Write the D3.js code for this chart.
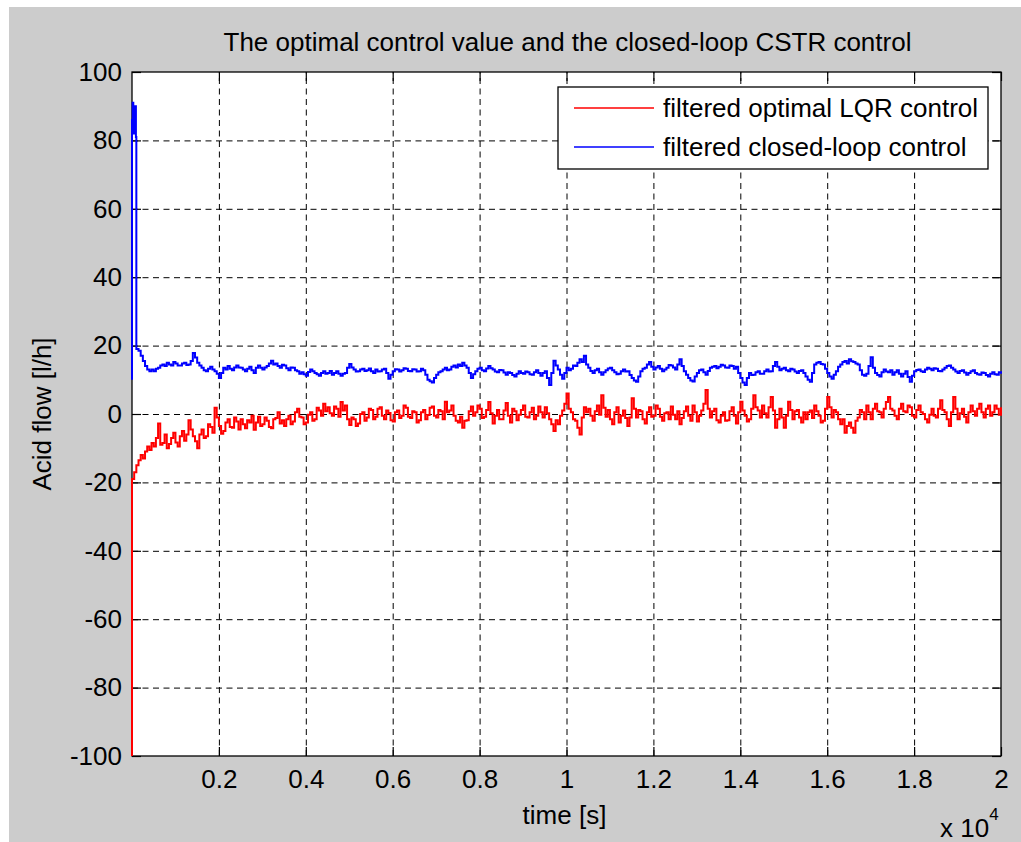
<!DOCTYPE html>
<html>
<head>
<meta charset="utf-8">
<script src="https://cdn.jsdelivr.net/npm/d3@7"></script>
<style>
  html, body { margin: 0; padding: 0; background: #ffffff; }
  svg { display: block; }
  text { font-family: "Liberation Sans", Arial, sans-serif; fill: #000; }
</style>
</head>
<body>
<svg id="chart" width="1021" height="842"></svg>
<script>
// ---------------- data ----------------
const titleText = "The optimal control value and the closed-loop CSTR control";
const xLabelText = "time [s]";
const yLabelText = "Acid flow [l/h]";
const seriesNames = ["filtered optimal LQR control", "filtered closed-loop control"];
const seriesColors = ["#ff0000", "#0000ff"];

const xTicks = [2000, 4000, 6000, 8000, 10000, 12000, 14000, 16000, 18000, 20000];
const yTicks = [-100, -80, -60, -40, -20, 0, 20, 40, 60, 80, 100];
const xDomain = [0, 20000];
const yDomain = [-100, 100];

// sampling grid for the main part of the records (s)
const mainStart = 500, mainStep = 50, mainEnd = 20000;

// start-up transient (explicit times)
const redEarlyT  = [0, 0, 50, 100, 150, 200, 250, 300, 350, 400, 450];
const redEarly   = [-100, -19, -17, -15, -13.5, -12, -13, -11, -9.5, -10.5, -8.5];
const blueEarlyT = [0, 0, 15, 30, 45, 60, 75, 90, 100, 150, 200, 250, 300, 350, 400, 450];
const blueEarly  = [10, 86, 91, 82, 89, 84, 90, 81, 19, 18.5, 17, 15.5, 14, 13, 12.5, 13];

// filtered optimal LQR control, t = 500 ... 20000 every 50 s (one row = 1000 s)
const redMain = [
  -9.5, -7, -2.8, -9, -8.5, -6, -10, -8.8, -7, -5.5, -8.3, -9.5, -6.5, -5, -7.8, -6, -1.8, -4.5, -6.5, -8,
  -10, -6, -4.5, -7, -6.5, -3, -3.8, -5.5, 1.8, -1, -3.5, -5.8, -5, -2.5, -1.5, -3.8, -4, -1, -2.2, -4.5,
  -1.5, -3, -4.2, -1.8, -2.5, -0.5, -4.6, -2.5, -0.8, -3.5, -3, -1, -2, -3.8, -4.2, -1.5, -1.2, 0.5, -2.8, -1.8,
  -3.5, -1.5, -0.5, -3, -2.2, 0.5, 1.5, -0.8, -1, -3, -2.5, -0.2, 0.5, -2, -1.5, 1.8, 1, -0.5, 3, 0.8,
  2, 0.2, -0.5, 2.2, 1.5, -0.8, 3.5, 1, 2.5, -1.5, -3.2, -1, -1.5, -3.5, -2.8, 0, 0.5, -2, -1, 1.5,
  1.2, -1.5, -0.8, 1.5, 2, -0.5, -1.5, 1, 0.3, -1.8, -2.2, 0.5, 1, -1.2, -0.5, 2.5, 1.8, -0.8, -1.2, 0.8,
  0.5, -2.5, -1.8, 0.5, 1.2, -1.5, -0.3, 1.8, 2.2, -0.5, -1, 1.2, 0.8, -1.5, 3.6, 0.5, 1, 2.5, -0.5, -2,
  -2.5, -0.8, -4, -2, -1.8, 0.8, 2.2, -0.5, 0.5, 2.5, 1.5, -1.2, -0.8, 1.2, 3.5, 0.2, -2.8, -0.5, 1.2, -1.5,
  -1.5, 1, 3.2, -0.5, -2.5, 1.5, 0.8, -1.8, -0.2, 1.2, 2.5, -0.8, -1, 0.5, 1.8, -1.5, -0.5, 2.2, 0.5, -1,
  2, 0.2, -1.5, -3, -5, -1.8, -3, -0.5, 1, 3, 6, 1.5, 0.5, -1.5, -2, -4, -6, -1, 2, 0.5,
  1.5, -0.5, -2, 0.8, 2.5, -0.2, 5.5, 1.8, -0.8, 1.2, -1.5, -3, 0.5, 2, -2.5, -0.5, 1, -1.2, -3.5, -1,
  4.6, 1.5, -1, 1.2, 0.8, -1.5, -2.8, 0.5, 2, -0.8, -0.5, 2.5, 1.5, -0.8, -2, 0.2, 0.5, -1.5, 2.2, -0.2,
  -1.5, 0.8, -3, -1.2, 0.8, 2.2, -0.5, -2, 2.5, 0.5, -2.2, -0.5, 1, 3, 7, 1.5, -1, 0.8, 1.5, -1.8,
  -2.5, -0.5, 0.5, -2, -1.8, 0.8, 2, -0.5, -2.8, 0.5, 3.6, 1, -0.5, -2.2, -1.5, 1.5, 5.5, 2, 1, -1,
  2.5, 0.2, -1, 2, 5, 1, -4, -1.5, 1.5, -1, -4, -0.5, 3.6, 1.2, -1.5, 0.8, 1.2, -1, -2.5, 0.5,
  -1.5, 0.5, 1, -1.2, 2.5, 0.8, -0.5, -2.5, -2, 1.5, 5, 2, -1, 1.2, 0.5, -1.5, -3, -1.5, -5.5, -3.5,
  -2.5, -4, -5.5, -2, -1, 1.2, 0.5, -1.5, 2.5, 0.5, -1.5, 1.5, 3, 0.8, 0.5, -1, 1.5, 3.5, 5, 1.5,
  1, -0.5, -1.5, 1.5, 3, 0.8, 0.5, 2.5, 2, -0.5, -1, 1.2, 2.5, 0.5, 0, -1.5, -2.5, -0.2, 1.5, -0.5,
  -1, 1.5, 4, 1.2, 0.5, -1.5, -3.5, 0.5, 5, 1.5, -1.5, 0.2, 1.5, -0.8, -2.5, 0.5, 2.5, 0.8, -0.5, 1.5,
  3, 0.5, -1, 1.5, 2.5, -0.5, 0.5, 2.5, 1.5, -0.2, 2
];

// filtered closed-loop control, t = 500 ... 20000 every 50 s (one row = 1000 s)
const blueMain = [
  12.5, 13.2, 13.5, 14.2, 14.5, 14, 15, 14.5, 14.2, 15.2, 14.8, 14.2, 14.2, 14.8, 15, 14.3, 14.5, 15.5, 17.8, 16.5,
  15, 14.2, 13.5, 12.8, 12.5, 13.2, 13.8, 13, 12.5, 11.8, 10.5, 12, 13.5, 13, 14, 13.2, 12.8, 13.6, 14.2, 13.6,
  13.5, 13, 12.5, 13.2, 13.8, 12.8, 12, 13.5, 14.2, 13.5, 13, 13.6, 14, 14.8, 15.6, 14.5, 14.8, 14, 13.5, 14.4,
  14.2, 13.4, 12.8, 13.6, 13.5, 12.8, 12.5, 11.8, 12.2, 11.6, 11.2, 12.3, 13, 12.5, 12, 11.6, 11.2, 12, 12.5, 11.8,
  12, 12.6, 11.5, 12, 12.5, 11.8, 11.2, 11.8, 12, 13.5, 14.6, 13.6, 13, 12.4, 12.5, 13, 13.2, 12.6, 12.8, 13.3,
  12.5, 12, 13, 12.4, 12.5, 13, 13.2, 12, 10.3, 11.5, 12.5, 13.1, 13, 12.4, 12.8, 13.4, 13.2, 12.6, 12.5, 13.1,
  13, 12.4, 12.5, 13.2, 12.8, 11.5, 10, 9.6, 9.2, 10.5, 11.5, 12.2, 12.5, 13, 13.5, 12.8, 13, 13.8, 14.2, 13.6,
  14.5, 14, 15, 14.2, 13.5, 12, 10.5, 11.6, 12.5, 13.2, 13.5, 12.8, 12.5, 13.3, 14, 13.4, 13, 12.4, 12.2, 12.9,
  12.8, 12.1, 11.5, 12.2, 12, 11.4, 11, 11.8, 12.5, 12, 11.8, 12.4, 12.2, 11.6, 11.5, 12.2, 12.8, 12, 11.2, 12,
  12.5, 10.5, 8.5, 12, 15.6, 14.2, 13, 11.5, 10.3, 12, 13.5, 12.8, 13.2, 14.2, 14, 15, 16, 15.2, 17, 14.5,
  13.5, 12.6, 12, 12.8, 13.2, 12.2, 11.5, 12.2, 12.8, 13.3, 13.5, 12.8, 12.2, 11.6, 11.8, 12.5, 13, 12.4, 12.5, 11.4,
  10.5, 9.8, 9.4, 11, 12.5, 13.2, 13.5, 14.5, 15.2, 13.8, 13, 13.6, 14, 13.2, 12.5, 13, 13.5, 14.3, 14.2, 13.6,
  13, 14.5, 16, 14, 12.5, 11.5, 10.5, 9.8, 9.5, 11, 12, 12.8, 13, 12.2, 11.5, 12.6, 13.5, 13.8, 14, 13.4,
  13.8, 14.4, 14.2, 13.6, 13.5, 14.2, 14, 13.2, 13.8, 12, 10.5, 9.2, 8.5, 10.5, 12, 11.4, 11.5, 12.2, 12.5, 11.8,
  11.8, 12.5, 13, 12.4, 12.5, 14, 15.2, 13.8, 12.8, 13.2, 13.5, 12.8, 12.5, 13.2, 13, 12.4, 12, 12.6, 12.8, 12,
  11, 10, 9.4, 12, 14.5, 15, 15.2, 14.6, 14.5, 13.2, 12, 11, 10.3, 11.5, 12.5, 13.8, 14.5, 15.2, 15.5, 14.8,
  16, 15.4, 15.2, 14.8, 14.5, 12.8, 11.5, 11.2, 11.8, 14, 16.6, 13.5, 12, 11.4, 11, 12.2, 13, 12.4, 12.2, 12.8,
  11.5, 12.2, 12.8, 11.8, 11, 11.8, 12.5, 10.8, 9.4, 11.2, 12.5, 12.9, 13, 12.5, 12.3, 13, 13.5, 13.2, 12.8, 13.4,
  13.2, 12.6, 12.5, 13, 13.5, 14, 14.2, 13.5, 13, 12.4, 12, 12.6, 12.8, 12.1, 11.5, 12, 12.5, 12.8, 12, 11.6,
  11.5, 12.1, 12, 11.4, 11, 11.8, 12.2, 11.6, 11.5, 12.2, 11.8
];

// ---------------- layout ----------------
const W = 1021, H = 842;
const plot = { left: 132, top: 72, right: 1001, bottom: 756 };
const fontSize = 26;

const svg = d3.select("#chart");
svg.append("rect").attr("x", 0).attr("y", 0).attr("width", W).attr("height", H).attr("fill", "#ffffff");
svg.append("rect").attr("x", 9).attr("y", 7).attr("width", W - 9).attr("height", H - 7).attr("fill", "#cccccc");

const x = d3.scaleLinear().domain(xDomain).range([plot.left, plot.right]);
const y = d3.scaleLinear().domain(yDomain).range([plot.bottom, plot.top]);
const pw = plot.right - plot.left, ph = plot.bottom - plot.top;

svg.append("rect")
  .attr("x", plot.left).attr("y", plot.top).attr("width", pw).attr("height", ph)
  .attr("fill", "#ffffff");

// grid
const grid = svg.append("g").attr("class", "grid");
grid.append("g")
  .attr("transform", `translate(0,${plot.bottom})`)
  .call(d3.axisBottom(x).tickValues(xTicks.filter(d => d < xDomain[1])).tickSize(-ph).tickFormat(""))
  .call(g => g.select(".domain").remove())
  .call(g => g.selectAll("line").attr("stroke", "#000").attr("stroke-dasharray", "6,4.5").attr("stroke-width", 1));
grid.append("g")
  .attr("transform", `translate(${plot.left},0)`)
  .call(d3.axisLeft(y).tickValues(yTicks.filter(d => d > yDomain[0] && d < yDomain[1])).tickSize(-pw).tickFormat(""))
  .call(g => g.select(".domain").remove())
  .call(g => g.selectAll("line").attr("stroke", "#000").attr("stroke-dasharray", "6,4.5").attr("stroke-width", 1));

// axes (inward ticks on all four sides)
const tickLen = 9;
const fmtX = d => String(+(d / 1e4).toFixed(1));
const fmtY = d => String(d);
function styleAxis(g) {
  g.select(".domain").remove();
  g.selectAll(".tick line").attr("stroke", "#000").attr("stroke-width", 1.2);
  g.selectAll(".tick text").attr("font-size", fontSize).attr("font-family", "Liberation Sans, Arial, sans-serif").attr("fill", "#000");
}
svg.append("g").attr("transform", `translate(0,${plot.bottom})`)
  .call(d3.axisBottom(x).tickValues(xTicks).tickSizeInner(-tickLen).tickSizeOuter(0).tickPadding(14).tickFormat(fmtX))
  .call(styleAxis);
svg.append("g").attr("transform", `translate(0,${plot.top})`)
  .call(d3.axisTop(x).tickValues(xTicks).tickSizeInner(-tickLen).tickSizeOuter(0).tickFormat(""))
  .call(styleAxis);
svg.append("g").attr("transform", `translate(${plot.left},0)`)
  .call(d3.axisLeft(y).tickValues(yTicks).tickSizeInner(-tickLen).tickSizeOuter(0).tickPadding(10).tickFormat(fmtY))
  .call(styleAxis);
svg.append("g").attr("transform", `translate(${plot.right},0)`)
  .call(d3.axisRight(y).tickValues(yTicks).tickSizeInner(-tickLen).tickSizeOuter(0).tickFormat(""))
  .call(styleAxis);

// box
svg.append("rect")
  .attr("x", plot.left).attr("y", plot.top).attr("width", pw).attr("height", ph)
  .attr("fill", "none").attr("stroke", "#000").attr("stroke-width", 1.3);

// series
const mainT = d3.range(mainStart, mainEnd + 1, mainStep);
const redT = redEarlyT.concat(mainT), redV = redEarly.concat(redMain);
const blueT = blueEarlyT.concat(mainT), blueV = blueEarly.concat(blueMain);
const redData = redT.map((t, i) => [t, redV[i]]).filter(d => d[1] !== undefined);
const blueData = blueT.map((t, i) => [t, blueV[i]]).filter(d => d[1] !== undefined);

const line = d3.line().x(d => x(d[0])).y(d => y(d[1])).curve(d3.curveStepAfter);
svg.append("path").datum(blueData).attr("d", line)
  .attr("fill", "none").attr("stroke", seriesColors[1]).attr("stroke-width", 2).attr("stroke-linejoin", "miter");
svg.append("path").datum(redData).attr("d", line)
  .attr("fill", "none").attr("stroke", seriesColors[0]).attr("stroke-width", 2).attr("stroke-linejoin", "miter");

// title & labels
svg.append("text").attr("x", (plot.left + plot.right) / 2 + 1).attr("y", 51)
  .attr("text-anchor", "middle").attr("font-size", fontSize).text(titleText);
svg.append("text").attr("x", (plot.left + plot.right) / 2 - 2).attr("y", 824)
  .attr("text-anchor", "middle").attr("font-size", fontSize).text(xLabelText);
svg.append("text").attr("transform", `translate(51,${(plot.top + plot.bottom) / 2}) rotate(-90)`)
  .attr("text-anchor", "middle").attr("font-size", fontSize).text(yLabelText);
const mult = svg.append("text").attr("x", 940).attr("y", 837).attr("font-size", fontSize);
mult.append("tspan").text("x 10");
mult.append("tspan").attr("dy", -17).attr("font-size", 17).text("4");

// legend
const leg = svg.append("g");
leg.append("rect").attr("x", 558).attr("y", 87).attr("width", 430).attr("height", 82)
  .attr("fill", "#ffffff").attr("stroke", "#000").attr("stroke-width", 1.3);
seriesNames.forEach((name, i) => {
  const ly = 108 + i * 39;
  leg.append("line").attr("x1", 574).attr("x2", 654).attr("y1", ly).attr("y2", ly)
    .attr("stroke", seriesColors[i]).attr("stroke-width", 1.5);
  leg.append("text").attr("x", 663).attr("y", ly + 9).attr("font-size", fontSize).text(name);
});
</script>
</body>
</html>
